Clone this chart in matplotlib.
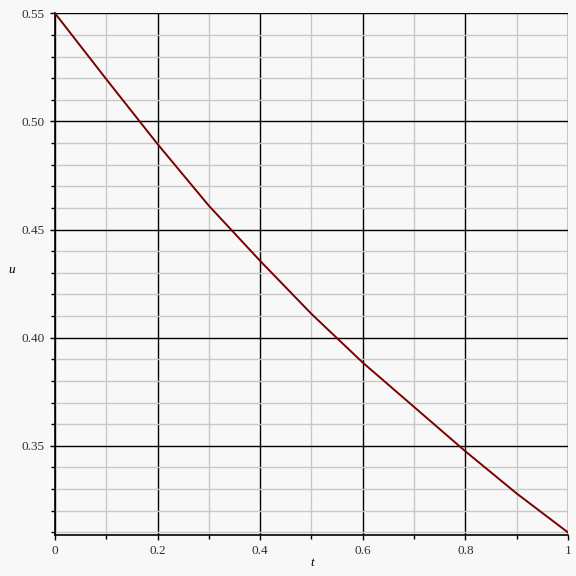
import numpy as np
import matplotlib
matplotlib.use('Agg')
import matplotlib.pyplot as plt
from matplotlib.ticker import MultipleLocator, FixedFormatter, FixedLocator

# valores
t = [0.0, 0.1, 0.2, 0.3, 0.4, 0.5, 0.6, 0.7, 0.8, 0.9, 1.0]
u = [0.550, 0.5195, 0.4895, 0.461, 0.4355, 0.411, 0.3885, 0.368, 0.3475, 0.328, 0.310]

x_ticks = [0, 0.2, 0.4, 0.6, 0.8, 1.0]
x_labels = ['0', '0.2', '0.4', '0.6', '0.8', '1']
y_ticks = [0.35, 0.40, 0.45, 0.50, 0.55]
y_labels = ['0.35', '0.40', '0.45', '0.50', '0.55']

bg = '#f8f8f8'
serif = ['Liberation Serif', 'DejaVu Serif']

fig = plt.figure(figsize=(5.76, 5.76), dpi=100)
fig.patch.set_facecolor(bg)
ax = fig.add_axes([0.0955, 0.0712, 0.8905, 0.9058])
ax.set_facecolor(bg)

ax.set_xlim(0, 1)
ax.set_ylim(0.3088, 0.55)

ax.xaxis.set_major_locator(FixedLocator(x_ticks))
ax.xaxis.set_major_formatter(FixedFormatter(x_labels))
ax.xaxis.set_minor_locator(MultipleLocator(0.1))
ax.yaxis.set_major_locator(FixedLocator(y_ticks))
ax.yaxis.set_major_formatter(FixedFormatter(y_labels))
ax.yaxis.set_minor_locator(MultipleLocator(0.01))

ax.grid(which='minor', color='#c8c8c8', linewidth=1.0)
ax.grid(which='major', color='black', linewidth=1.0)
ax.set_axisbelow(True)

for s in ['top', 'right']:
    ax.spines[s].set_visible(False)
for s in ['left', 'bottom']:
    ax.spines[s].set_linewidth(1.2)

ax.tick_params(which='major', direction='out', length=3.5, width=1, labelsize=9.5)
ax.tick_params(which='minor', direction='out', length=3, width=1)
ax.tick_params(axis='x', which='major', pad=3.5)
ax.tick_params(axis='y', which='major', pad=4)
for lab in ax.get_xticklabels() + ax.get_yticklabels():
    lab.set_family(serif)
    lab.set_color('#303030')

ax.plot(t, u, color='#7a0000', linewidth=1.4, zorder=3)

fig.text(312/576, 1 - 563/576, 't', fontstyle='italic', family=serif,
         fontsize=9.5, ha='center', va='center')
fig.text(12/576, 1 - 270/576, 'u', fontstyle='italic', family=serif,
         fontsize=9.5, ha='center', va='center')

fig.savefig('out.png', dpi=100, facecolor=bg)
